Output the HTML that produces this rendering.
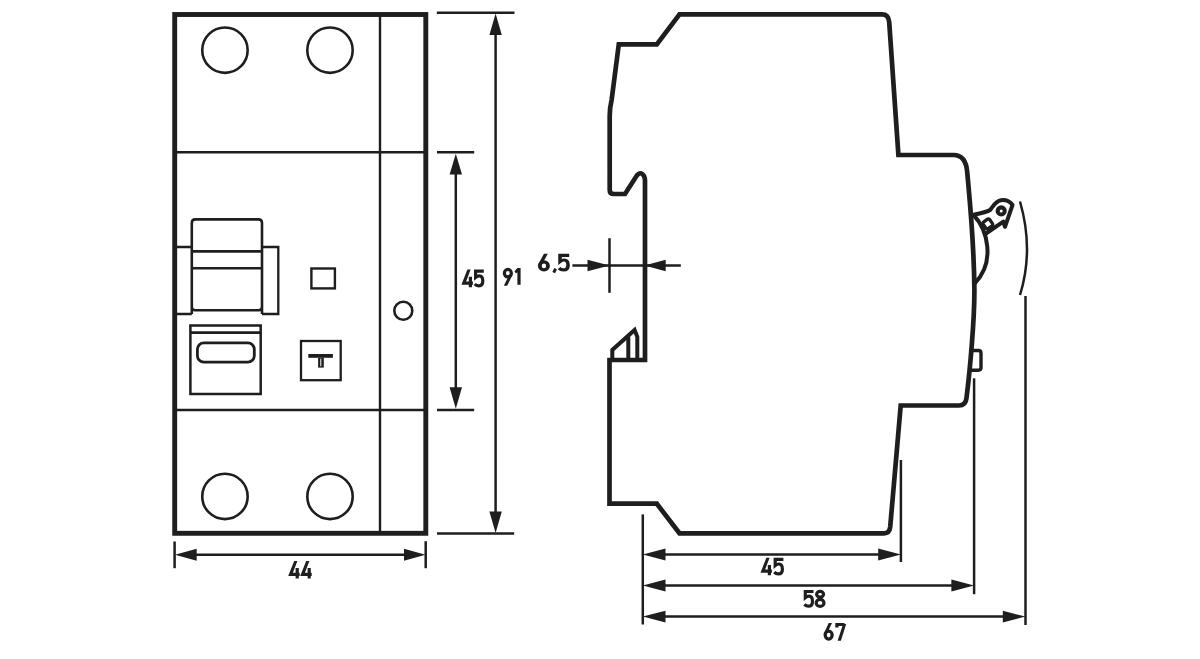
<!DOCTYPE html>
<html><head><meta charset="utf-8">
<style>
html,body{margin:0;padding:0;background:#fff;width:1200px;height:659px;overflow:hidden}
svg{display:block}
text{font-family:"Liberation Sans",sans-serif;font-weight:bold;fill:#1e1e1e}
</style></head>
<body>
<svg width="1200" height="659" viewBox="0 0 1200 659">
<defs>
<g id="d4"><path d="M5.9 0H9.1L4.6 11.9H7.3V7.2H10.5V11.9H11.4V15.1H10.5V17.6H7.3V15.1H0L0.3 14.2Z" stroke="none" fill="#1e1e1e"/></g>
<g id="d5"><path d="M10 1.6H1.8V7.8C3 6.8 4.3 6.3 5.5 6.3C8 6.3 9 8.5 9 11.5C9 14.6 7.5 16.2 5 16.2C3.4 16.2 2 15.6 0.9 14.4"/></g>
<g id="d9"><ellipse cx="5.15" cy="5.4" rx="3.5" ry="3.75"/><path d="M6.7 6.8H10L4.4 17.9H1.1Z" stroke="none" fill="#1e1e1e"/></g>
<g id="d1"><path d="M2.9 0.1H6.1V16.9H2.9V4.4L1.5 5.7L0 3.4Z" stroke="none" fill="#1e1e1e"/></g>
<g id="d6"><ellipse cx="5.15" cy="12.2" rx="3.5" ry="4"/><path d="M5.2 0H8.5L3.3 11H0.1Z" stroke="none" fill="#1e1e1e"/></g>
<g id="d8"><ellipse cx="5.5" cy="4.4" rx="3.45" ry="2.85"/><ellipse cx="5.5" cy="13" rx="3.9" ry="3.45"/></g>
<g id="d7"><path d="M1 4.6V1.6H8.6" /><path d="M7.2 1H10.3L5 17.9H1.7Z" stroke="none" fill="#1e1e1e"/></g>
</defs>

<g fill="none" stroke="#1e1e1e" stroke-linejoin="miter">
<!-- FRONT VIEW -->
<rect x="174.7" y="14.5" width="251.1" height="518.8" stroke-width="4.9"/>
<line x1="380" y1="14.5" x2="380" y2="533.3" stroke-width="2.4"/>
<line x1="174.7" y1="152.2" x2="425.8" y2="152.2" stroke-width="2.5"/>
<line x1="174.7" y1="410" x2="425.8" y2="410" stroke-width="2.5"/>
<circle cx="224.95" cy="50.15" r="22.7" stroke-width="2.6"/>
<circle cx="330" cy="50.15" r="22.7" stroke-width="2.6"/>
<circle cx="224.95" cy="496.4" r="22.7" stroke-width="2.6"/>
<circle cx="330" cy="496.4" r="22.7" stroke-width="2.6"/>
<circle cx="403.3" cy="310.7" r="9.0" stroke-width="2.6"/>
<!-- handle -->
<path d="M174.7 247H191.8M191.8 314H174.7M262 247H278.3V314H262" stroke-width="2.3"/>
<path d="M191.8 314V223Q191.8 219.4 195.4 219.4H258.4Q262 219.4 262 223V314M191.8 306.8Q191.8 310.3 195.3 310.3H258.5Q262 310.3 262 306.8" stroke-width="2.6"/>
<line x1="191.8" y1="251.4" x2="262" y2="251.4" stroke-width="2.8"/>
<line x1="191.8" y1="268.3" x2="262" y2="268.3" stroke-width="2.5"/>
<!-- window -->
<rect x="190.4" y="325.5" width="70.3" height="68.5" stroke-width="2.5"/>
<line x1="190.4" y1="332.6" x2="260.7" y2="332.6" stroke-width="2.8"/>
<rect x="197.4" y="342.8" width="56.9" height="19.4" rx="6.5" stroke-width="2.8"/>
<!-- small square / T button -->
<rect x="311.4" y="268.5" width="23.5" height="19.9" stroke-width="2.4"/>
<rect x="301" y="341" width="39.7" height="39.2" stroke-width="2.3"/>
<!-- dims front -->
<g stroke-width="2.5">
<line x1="436.8" y1="12.8" x2="514.5" y2="12.8"/>
<line x1="437" y1="152.2" x2="474.2" y2="152.2"/>
<line x1="437" y1="409.9" x2="474.2" y2="409.9"/>
<line x1="437" y1="533.5" x2="514.2" y2="533.5"/>
<line x1="495.6" y1="30" x2="495.6" y2="515"/>
<line x1="455.8" y1="170" x2="455.8" y2="392"/>
<line x1="174.6" y1="541.5" x2="174.6" y2="568.2"/>
<line x1="425.7" y1="541.2" x2="425.7" y2="568.2"/>
<line x1="190" y1="554.8" x2="410" y2="554.8"/>
</g>
</g>
<g fill="#1e1e1e">
<rect x="308.3" y="354" width="24.6" height="3.8"/>
<rect x="318.1" y="357.8" width="5.7" height="9.8"/>
<!-- arrowheads -->
<path d="M495.6 13.4L501.8 35H489.4Z"/>
<path d="M495.6 533L501.8 511.4H489.4Z"/>
<path d="M455.8 153.7L462 174.6H449.6Z"/>
<path d="M455.8 408.7L462 387.3H449.6Z"/>
<path d="M175 554.8L196.7 548.8V560.8Z"/>
<path d="M425.5 554.8L404 548.8V560.8Z"/>
</g>
<rect x="320.3" y="358.6" width="1" height="7.6" fill="#fff"/>

<!-- SIDE VIEW -->
<g fill="none" stroke="#1e1e1e" stroke-width="4.7" stroke-linejoin="miter" stroke-miterlimit="6">
<path d="M618.8 44.3L611.6 100Q609.7 108 609.7 116V190Q609.7 194 613.7 194H625L636.5 176Q640.6 170.5 644 176Q645 178 645 181V360H609.5V503.7H656.8L679.5 533.3H884Q889.5 533.3 890.2 527L900.7 405.5H959Q965.8 405.5 966.5 398C970 370 974.5 320 974.4 290C974 240 969.5 198 967.2 172Q965.8 155 953.5 155H898.4L889.2 22Q888.5 14.4 882 14.4H679.5L656.8 44.3Z"/>
<!-- latch -->
<path d="M612.3 360V350L634.6 330L637.3 336.8V360M628.3 336V360" stroke-width="4"/>
</g>

<!-- lever -->
<g fill="none" stroke="#1e1e1e" stroke-linejoin="round" stroke-linecap="round">
<path d="M973.5 215C987.8 229.7 995.4 262 975 283" stroke-width="4"/>
<path d="M973.5 214.8C980 213.5 987 212 990 210C993 207 995 201 1001 200.2C1006 199.7 1010 201.5 1012.5 205L1005 226.8L1003.3 221.6L986 233.5" stroke-width="4"/>
<circle cx="1001.2" cy="210.9" r="3.55" stroke-width="4.1"/>
<rect x="-4" y="-4" width="8" height="8" rx="1.5" transform="translate(987.8 223.9) rotate(-35)" stroke-width="3.3"/>
<path d="M973 350.5H978.3Q981 350.5 981 353.2V367.5Q981 370.2 978.3 370.2H970.5" stroke-width="3.4"/>
<path d="M1020 201.5Q1034 250 1020 295" stroke-width="2.5" stroke-linecap="butt"/>
</g>
<!-- side dims -->
<g fill="none" stroke="#1e1e1e" stroke-width="2.5">
<line x1="609.5" y1="238.2" x2="609.5" y2="292.8"/>
<line x1="572.4" y1="265.5" x2="680.8" y2="265.5"/>
<line x1="642.8" y1="514.4" x2="642.8" y2="624.5"/>
<line x1="900.9" y1="460" x2="900.9" y2="562"/>
<line x1="974.1" y1="378.3" x2="974.1" y2="594.2"/>
<line x1="1025.5" y1="296" x2="1025.5" y2="625"/>
<line x1="660" y1="554.5" x2="885" y2="554.5"/>
<line x1="660" y1="585.5" x2="958" y2="585.5"/>
<line x1="660" y1="616.6" x2="1010" y2="616.6"/>
</g>
<g fill="#1e1e1e">
<path d="M609.5 265.5L587.5 259.8V271.2Z"/>
<path d="M644.4 265.5L665.7 259.8V271.2Z"/>
<path d="M642.8 554.5L665.5 548.6V560.4Z"/>
<path d="M900.9 554.5L878.2 548.6V560.4Z"/>
<path d="M642.8 585.5L665.5 579.6V591.4Z"/>
<path d="M974.1 585.5L951.4 579.6V591.4Z"/>
<path d="M642.8 616.6L665.5 610.7V622.5Z"/>
<path d="M1025.5 616.6L1002.8 610.7V622.5Z"/>
</g>
<!-- text -->
<g fill="none" stroke="#1e1e1e" stroke-width="3.2" stroke-linejoin="miter">
<use href="#d4" x="288.3" y="560.9"/><use href="#d4" x="300.3" y="560.9"/>
<use href="#d4" x="461.5" y="269.6"/><use href="#d5" x="473.8" y="269.6"/>
<use href="#d9" x="502.7" y="267.8"/><use href="#d1" x="514.5" y="267.8"/>
<use href="#d6" transform="translate(537.9 253.7) scale(1.17 1)"/><path d="M555.6 268.7L553.7 272.6" stroke-width="3"/><use href="#d5" transform="translate(558 253.7) scale(1.12 1)"/>
<use href="#d4" x="760.5" y="557.7"/><use href="#d5" x="773.4" y="557.7"/>
<use href="#d5" x="803.5" y="589.9"/><use href="#d8" x="814.6" y="589.9"/>
<use href="#d6" x="823.5" y="622.9"/><use href="#d7" x="835.9" y="622.9"/>
</g>
</svg>
</body></html>
